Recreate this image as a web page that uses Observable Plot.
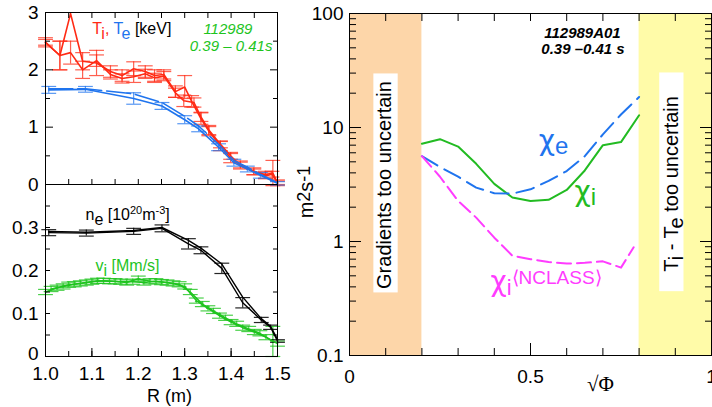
<!DOCTYPE html>
<html><head><meta charset="utf-8">
<script src="https://cdn.jsdelivr.net/npm/d3@7"></script>
<script src="https://cdn.jsdelivr.net/npm/@observablehq/plot@0.6"></script>
<style>
html,body{margin:0;padding:0;background:#fff;}
#chart{position:relative;width:712px;height:407px;overflow:hidden;font-family:"Liberation Sans",Arial,sans-serif;}
#chart svg{position:absolute;}
</style></head><body><div id="chart"></div>
<script>
// ---------- Data: left top panel (Ti, Te in keV vs R in m) ----------
const tiR_a = [1.000,1.031,1.054,1.080,1.110,1.140,1.165,1.190,1.215,1.235,1.255,1.280,1.300,1.315,1.335,1.352,1.377,1.399,1.420,1.449,1.474,1.490,1.500];
const ti_a  = [2.48,2.25,2.98,2.15,2.12,1.97,1.90,2.02,1.97,1.90,1.92,1.62,1.70,1.45,1.15,0.93,0.67,0.46,0.35,0.23,0.17,0.20,0.03];
const tiE_a = [0.08,0.25,0,0.15,0.22,0.10,0.10,0.12,0.10,0.10,0.08,0.10,0.20,0.10,0.10,0.08,0.08,0.08,0.06,0.06,0.06,0.22,0.05];
const tiR_b = [1.000,1.031,1.054,1.080,1.110,1.140,1.165,1.190,1.215,1.235,1.255,1.280,1.298,1.320,1.335,1.352,1.377,1.399,1.420,1.449,1.474,1.488,1.500];
const ti_b  = [2.48,2.25,2.30,2.00,2.16,1.92,1.85,1.88,1.93,1.86,1.89,1.60,1.46,1.43,1.18,0.95,0.70,0.50,0.33,0.22,0.15,0.18,0.03];
const tiE_b = [0.05,0.25,0.20,0.15,0.10,0.08,0.08,0.10,0.08,0.08,0.08,0.08,0.10,0.08,0.08,0.08,0.06,0.06,0.06,0.05,0.05,0.05,0.03];
const teR   = [1.007,1.086,1.190,1.251,1.300,1.330,1.373,1.406,1.435,1.463,1.500];
const te_a  = [1.65,1.66,1.50,1.37,1.13,0.97,0.65,0.38,0.27,0.16,0.02];
const te_b  = [1.67,1.67,1.58,1.43,1.19,1.02,0.70,0.42,0.30,0.18,0.03];
const teE   = [0.06,0.05,0.10,0.06,0.07,0.05,0.06,0.06,0.05,0.05,0.03];
const topTicks = [0, 1, 2, 3];

// ---------- Data: left bottom panel (ne, vi) ----------
const neR   = [1.007,1.088,1.190,1.251,1.308,1.335,1.380,1.425,1.465,1.485,1.500];
const ne_a  = [0.288,0.287,0.291,0.298,0.262,0.247,0.205,0.125,0.085,0.068,0.036];
const ne_b  = [0.291,0.289,0.293,0.300,0.270,0.252,0.215,0.138,0.088,0.070,0.040];
const neE   = [0.007,0.007,0.007,0.008,0.012,0.008,0.012,0.012,0.006,0.005,0.003];
const viR_a = [1.000,1.025,1.050,1.075,1.100,1.125,1.150,1.175,1.200,1.225,1.250,1.275,1.300,1.325,1.350,1.375,1.400,1.425,1.450,1.475,1.500];
const vi_a  = [0.150,0.160,0.167,0.170,0.174,0.176,0.175,0.172,0.181,0.175,0.173,0.170,0.163,0.130,0.112,0.095,0.080,0.067,0.057,0.045,0.030];
const viR_b = [1.012,1.038,1.062,1.088,1.112,1.138,1.162,1.188,1.212,1.238,1.262,1.288,1.312,1.338,1.362,1.388,1.412,1.438,1.462,1.490];
const vi_b  = [0.157,0.163,0.168,0.172,0.176,0.175,0.174,0.174,0.172,0.175,0.172,0.168,0.150,0.122,0.106,0.090,0.076,0.064,0.054,0.035];
const viE_b = [0.006,0.006,0.006,0.006,0.006,0.006,0.006,0.006,0.006,0.006,0.006,0.006,0.006,0.006,0.006,0.006,0.006,0.006,0.006,0.035];
const bottomTicks = [0.1, 0.2, 0.3];
const bottomZero = [0];
const rTicks = [1.0, 1.1, 1.2, 1.3, 1.4, 1.5];

// ---------- Data: right panel (diffusivities vs sqrt(Phi)) ----------
const sqrtPhi = [0.20,0.25,0.30,0.35,0.40,0.45,0.50,0.55,0.60,0.65,0.70,0.75,0.80];
const chiI    = [7.2,7.9,6.8,4.8,3.2,2.43,2.27,2.32,2.83,4.2,7.0,7.45,12.8];
const chiE    = [5.6,4.5,3.7,2.97,2.65,2.63,2.87,3.4,4.15,5.6,8.7,13.0,18.5];
const sqrtPhiNC = [0.20,0.25,0.30,0.35,0.40,0.45,0.50,0.55,0.60,0.65,0.70,0.75,0.785];
const chiINC  = [5.6,3.7,2.27,1.62,1.08,0.75,0.70,0.66,0.64,0.65,0.67,0.59,0.89];
const bandGradients = [0, 0.2];
const bandTiTe = [0.8, 1.0];
const logLabels = [0.1, 1, 10, 100];
const phiLabels = [0, 0.5, 1];

// ---------- styling ----------
const FONT = '"Liberation Sans", Arial, Helvetica, sans-serif';
const CHIFONT = '"DejaVu Sans", "Liberation Sans", sans-serif';
const RED = "#ff2a14", BLUE = "#1f74ee", GREEN = "#1ec41e", BLACK = "#000";
const RGREEN = "#22bb22", MAGENTA = "#ff3cff";
const rows = (R, v, e) => R.map((r, i) => ({R: r, v: v[i], e: e ? e[i] : 0}));
const style = {fontFamily: FONT, fontSize: "19px", background: "transparent", overflow: "visible", color: "black"};

function errBars(data, color, cap, opacity = 0.75) {
  const d = data.filter(p => p.e > 0);
  const o = {stroke: color, strokeWidth: 1.2, strokeOpacity: opacity};
  return [
    Plot.ruleX(d, {x: "R", y1: p => p.v - p.e, y2: p => p.v + p.e, ...o}),
    Plot.link(d, {x1: p => p.R - cap, x2: p => p.R + cap, y1: p => p.v - p.e, y2: p => p.v - p.e, ...o}),
    Plot.link(d, {x1: p => p.R - cap, x2: p => p.R + cap, y1: p => p.v + p.e, y2: p => p.v + p.e, ...o})
  ];
}
const blank = () => "";
function inTicks(axis, anchor, ticks, size) {
  return axis({anchor, ticks, tickSize: -size, tickFormat: blank, label: null});
}
// replace a plain text label (found by its content) with styled tspans
function rich(svg, str, parts) {
  const t = d3.select(svg).selectAll("text").filter(function () { return this.textContent === str; });
  t.text(null);
  let shift = 0;
  for (const p of parts) {
    const s = t.append("tspan").text(p.t);
    const target = p.shift || 0;
    if (target !== shift) { s.attr("dy", target - shift); shift = target; }
    if (p.fill) s.attr("fill", p.fill);
    if (p.size) s.attr("font-size", p.size);
    if (p.font) s.attr("font-family", p.font);
  }
}
const range = (a, b, s) => d3.range(Math.round((b - a) / s) + 1).map(i => +(a + i * s).toFixed(4));
const xMinor = range(1, 1.5, 0.05);

const L_T = "Ti, Te [keV]", L_NE = "ne [1020m-3]", L_VI = "vi [Mm/s]", L_TITE = "Ti - Te too uncertain";
const L_CHE = "\u03c7e", L_CHI = "\u03c7i", L_NC = "\u03c7i\u27e8NCLASS\u27e9", L_UNIT = "m2s-1";

// ---------- top-left ----------
const tl = Plot.plot({
  width: 290, height: 200, marginLeft: 45, marginRight: 13, marginTop: 12, marginBottom: 16,
  x: {domain: [1, 1.5]}, y: {domain: [0, 3]}, style,
  marks: [
    ...errBars(rows(tiR_a, ti_a, tiE_a), RED, 0.016),
    ...errBars(rows(tiR_b, ti_b, tiE_b), RED, 0.016),
    ...errBars(rows(teR, te_a, teE), BLUE, 0.016),
    Plot.line(rows(tiR_a, ti_a), {x: "R", y: "v", stroke: RED, strokeWidth: 1.6}),
    Plot.line(rows(tiR_b, ti_b), {x: "R", y: "v", stroke: RED, strokeWidth: 1.6}),
    Plot.line(rows(teR, te_a), {x: "R", y: "v", stroke: BLUE, strokeWidth: 1.6}),
    Plot.line(rows(teR, te_b), {x: "R", y: "v", stroke: BLUE, strokeWidth: 1.6, strokeDasharray: "24,5"}),
    Plot.frame({stroke: BLACK, strokeWidth: 1}),
    Plot.axisY({ticks: topTicks, tickSize: 0, tickPadding: 7, label: null, tickFormat: d => String(d)}),
    inTicks(Plot.axisY, "left", topTicks, 8), inTicks(Plot.axisY, "left", [0.5, 1.5, 2.5], 5),
    inTicks(Plot.axisY, "right", topTicks, 8), inTicks(Plot.axisY, "right", [0.5, 1.5, 2.5], 5),
    inTicks(Plot.axisX, "top", xMinor, 5), inTicks(Plot.axisX, "bottom", xMinor, 5),
    Plot.text([L_T], {x: 1.1006, y: 2.72, text: d => d, textAnchor: "start", fontSize: 16, fill: BLACK}),
    Plot.text(["112989"], {x: 1.393, y: 2.71, text: d => d, fontSize: 15, fontStyle: "italic", fill: GREEN}),
    Plot.text(["0.39 \u2013 0.41s"], {x: 1.489, y: 2.42, text: d => d, textAnchor: "end", fontSize: 15, fontStyle: "italic", fill: GREEN})
  ]
});

// ---------- bottom-left ----------
const bl = Plot.plot({
  width: 290, height: 237, marginLeft: 45, marginRight: 13, marginTop: 14, marginBottom: 51,
  x: {domain: [1, 1.5]}, y: {domain: [0, 0.4]}, style,
  marks: [
    ...errBars(rows(viR_a, vi_a, viR_a.map(() => 0.006)), GREEN, 0.016, 0.8),
    ...errBars(rows(viR_b, vi_b, viE_b), GREEN, 0.016, 0.8),
    ...errBars(rows(neR, ne_a, neE), BLACK, 0.016, 0.85),
    Plot.line(rows(viR_a, vi_a), {x: "R", y: "v", stroke: GREEN, strokeWidth: 1.5}),
    Plot.line(rows(viR_b, vi_b), {x: "R", y: "v", stroke: GREEN, strokeWidth: 1.5}),
    Plot.line(rows(neR, ne_a), {x: "R", y: "v", stroke: BLACK, strokeWidth: 1.4}),
    Plot.line(rows(neR, ne_b), {x: "R", y: "v", stroke: BLACK, strokeWidth: 1.4}),
    Plot.frame({stroke: BLACK, strokeWidth: 1}),
    Plot.axisY({ticks: bottomTicks, tickSize: 0, tickPadding: 7, label: null, tickFormat: d => String(d)}),
    Plot.axisY({ticks: bottomZero, tickSize: 0, tickPadding: 7, label: null, tickFormat: d => String(d), dy: -3}),
    Plot.axisX({ticks: rTicks, tickSize: 0, tickPadding: 10, label: null, tickFormat: d3.format(".1f")}),
    inTicks(Plot.axisY, "left", range(0, 0.4, 0.05), 5), inTicks(Plot.axisY, "right", range(0, 0.4, 0.05), 5),
    inTicks(Plot.axisX, "bottom", rTicks, 8), inTicks(Plot.axisX, "bottom", xMinor, 5),
    Plot.text([L_NE], {x: 1.0862, y: 0.3305, text: d => d, textAnchor: "start", fontSize: 16, fill: BLACK}),
    Plot.text([L_VI], {x: 1.1078, y: 0.2104, text: d => d, textAnchor: "start", fontSize: 16, fill: GREEN}),
    Plot.text(["R (m)"], {x: 1.267, y: -0.092, text: d => d, fontSize: 18, fill: BLACK})
  ]
});

// ---------- right ----------
const minorLog = [];
for (const dec of [0.1, 1, 10]) for (let k = 2; k <= 9; k++) minorLog.push(+(dec * k).toFixed(3));
const phiMinor = [0.1, 0.2, 0.3, 0.4, 0.6, 0.7, 0.8, 0.9];
const rp = Plot.plot({
  width: 422, height: 407, marginLeft: 59, marginRight: 1, marginTop: 13, marginBottom: 52,
  x: {domain: [0, 1]}, y: {type: "log", domain: [0.1, 100]}, style,
  marks: [
    Plot.rect([bandGradients], {x1: d => d[0], x2: d => d[1], fill: "#fdd6a9"}),
    Plot.rect([bandTiTe], {x1: d => d[0], x2: d => d[1], fill: "#fffba8"}),
    Plot.rect([0], {x1: 0.0673, x2: 0.1345, y1: 0.354, y2: 29.5, fill: "white"}),
    Plot.rect([0], {x1: 0.857, x2: 0.924, y1: 0.363, y2: 30.1, fill: "white"}),
    Plot.text(["Gradients too uncertain"], {x: 0.098, y: 3.13, text: d => d, rotate: -90, fontSize: 20, fill: BLACK}),
    Plot.text([L_TITE], {x: 0.891, y: 3.2, text: d => d, rotate: -90, fontSize: 20, fill: BLACK}),
    Plot.line(sqrtPhi.map((x, i) => ({x, v: chiI[i]})), {x: "x", y: "v", stroke: RGREEN, strokeWidth: 2}),
    Plot.line(sqrtPhi.map((x, i) => ({x, v: chiE[i]})), {x: "x", y: "v", stroke: BLUE, strokeWidth: 2, strokeDasharray: "18,8"}),
    Plot.line(sqrtPhiNC.map((x, i) => ({x, v: chiINC[i]})), {x: "x", y: "v", stroke: MAGENTA, strokeWidth: 2, strokeDasharray: "14,6"}),
    Plot.frame({stroke: BLACK, strokeWidth: 1}),
    Plot.axisY({ticks: logLabels, tickSize: 0, tickPadding: 6, label: null, tickFormat: d => String(d)}),
    Plot.axisX({ticks: phiLabels, tickSize: 0, tickPadding: 14, label: null, tickFormat: d => String(d)}),
    inTicks(Plot.axisY, "left", logLabels, 12), inTicks(Plot.axisY, "left", minorLog, 7),
    inTicks(Plot.axisY, "right", logLabels, 12), inTicks(Plot.axisY, "right", minorLog, 7),
    inTicks(Plot.axisX, "bottom", [0.5], 12), inTicks(Plot.axisX, "bottom", phiMinor, 7),
    inTicks(Plot.axisX, "top", [0.5], 7), inTicks(Plot.axisX, "top", phiMinor, 7),
    Plot.text(["112989A01"], {x: 0.6436, y: 66.7, text: d => d, fontSize: 15, fontWeight: "bold", fontStyle: "italic", fill: BLACK}),
    Plot.text(["0.39 \u20130.41 s"], {x: 0.645, y: 48.3, text: d => d, fontSize: 15, fontWeight: "bold", fontStyle: "italic", fill: BLACK}),
    Plot.text([L_CHE], {x: 0.5229, y: 7.6, text: d => d, textAnchor: "start", fontSize: 28, fill: BLUE}),
    Plot.text([L_CHI], {x: 0.6215, y: 2.72, text: d => d, textAnchor: "start", fontSize: 28, fill: RGREEN}),
    Plot.text([L_NC], {x: 0.3895, y: 0.437, text: d => d, textAnchor: "start", fontSize: 28, fill: MAGENTA}),
    Plot.text([L_UNIT], {x: -0.119, y: 2.72, text: d => d, rotate: -90, fontSize: 20, fill: BLACK}),
    Plot.text(["\u221a\u03a6"], {x: 0.693, y: 0.0557, text: d => d, fontSize: 21, fill: BLACK, fontFamily: '"Liberation Serif", "Times New Roman", serif'})
  ]
});

const chart = document.getElementById("chart");
tl.style.left = "0px"; tl.style.top = "0px";
bl.style.left = "0px"; bl.style.top = "170px";
rp.style.left = "290px"; rp.style.top = "0px";
chart.append(tl, bl, rp);

rich(tl, L_T, [{t: "T", fill: RED}, {t: "i", fill: RED, shift: 5}, {t: ", ", fill: RED}, {t: "T", fill: BLUE}, {t: "e", fill: BLUE, shift: 5}, {t: " [keV]", fill: BLACK}]);
rich(bl, L_NE, [{t: "n"}, {t: "e", shift: 5}, {t: " [10"}, {t: "20", size: 11, shift: -6}, {t: "m", size: 16}, {t: "-3", size: 11, shift: -6}, {t: "]", size: 16}]);
rich(bl, L_VI, [{t: "v"}, {t: "i", shift: 5}, {t: " [Mm/s]"}]);
rich(rp, L_TITE, [{t: "T"}, {t: "i", shift: 5}, {t: " - T"}, {t: "e", shift: 5}, {t: " too uncertain"}]);
rich(rp, L_CHE, [{t: "\u03c7", font: CHIFONT}, {t: "e", size: 24, shift: 4}]);
rich(rp, L_CHI, [{t: "\u03c7", font: CHIFONT}, {t: "i", size: 24, shift: 4}]);
rich(rp, L_NC, [{t: "\u03c7", font: CHIFONT}, {t: "i", size: 22, shift: 4}, {t: "\u27e8NCLASS\u27e9", size: 19, shift: -7}]);
rich(rp, L_UNIT, [{t: "m"}, {t: "2", size: 18, shift: -3}, {t: "s", size: 20}, {t: "-1", size: 18, shift: -3}]);
</script></body></html>
